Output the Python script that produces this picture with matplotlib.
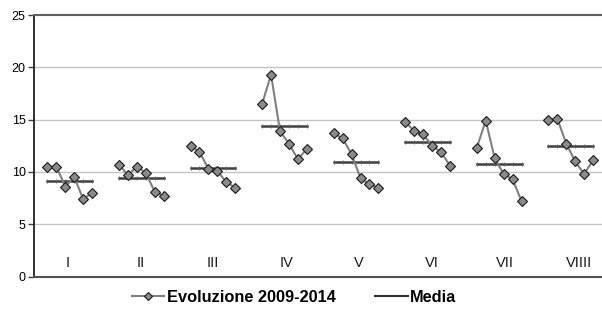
import matplotlib
matplotlib.use("Agg")
import matplotlib.pyplot as plt
from matplotlib.lines import Line2D

plt.rcParams['font.family'] = ['Liberation Sans', 'DejaVu Sans']

groups = ["I", "II", "III", "IV", "V", "VI", "VII", "VIIII"]
evoluzione = [
    [10.5, 10.5, 8.6, 9.5, 7.4, 8.0],
    [10.7, 9.7, 10.5, 9.9, 8.1, 7.7],
    [12.5, 11.9, 10.3, 10.1, 9.0, 8.5],
    [16.5, 19.3, 13.9, 12.7, 11.2, 12.2],
    [13.7, 13.2, 11.7, 9.4, 8.8, 8.5],
    [14.8, 13.9, 13.6, 12.5, 11.9, 10.6],
    [12.3, 14.9, 11.3, 9.8, 9.3, 7.2],
    [15.0, 15.1, 12.7, 11.0, 9.8, 11.1],
]
media = [9.1, 9.4, 10.4, 14.4, 10.9, 12.9, 10.8, 12.5]
label_pos = [3.3, 11.4, 19.5, 27.7, 35.8, 44.0, 52.2, 60.4]
yticks = [0, 5, 10, 15, 20, 25]

fig = plt.figure(figsize=(6.02, 3.16), dpi=100)
ax = fig.add_axes([34/602, 39.5/316, (606.5-34)/602, (276.5-15)/316])

slots = 8
for g, vals in enumerate(evoluzione):
    xs = [g*slots + 1 + i for i in range(len(vals))]
    ax.plot(xs, vals, color='#808080', lw=1.5, marker='D', markersize=5.5,
            markerfacecolor='#8a8a8a', markeredgecolor='#1a1a1a', markeredgewidth=0.8,
            zorder=3)
    ax.plot(xs, [media[g]]*len(xs), color='#404040', lw=1.8, marker='|', markersize=2.2,
            markeredgewidth=0.6, markeredgecolor='#606060', zorder=2)

for g, name in enumerate(groups):
    ax.text(label_pos[g], 1.25, name, ha='center', va='center', fontsize=10.5,
            color='#1a1a1a')

ax.set_xlim(-0.5, 63.5)
ax.set_ylim(0, 25)
ax.set_yticks(yticks)
ax.set_yticklabels([str(t) for t in yticks], fontsize=9)
ax.set_xticks([])
ax.tick_params(axis='y', length=4, width=1, color='#404040', pad=2)
for y in yticks[1:-1]:
    ax.axhline(y, color='#c4c4c4', lw=1, zorder=0)
ax.spines['right'].set_visible(False)
ax.spines['top'].set_color('#606060')
ax.spines['top'].set_linewidth(1.5)
ax.spines['left'].set_color('#202020')
ax.spines['left'].set_linewidth(1.3)
ax.spines['bottom'].set_color('#505050')
ax.spines['bottom'].set_linewidth(1.5)

h1 = Line2D([], [], color='#808080', lw=1.5, marker='D', markersize=4.5,
            markerfacecolor='#8a8a8a', markeredgecolor='#1a1a1a', markeredgewidth=0.8)
h2 = Line2D([], [], color='#303030', lw=1.5)
fig.legend([h1, h2], ['Evoluzione 2009-2014', 'Media'], loc='center',
           bbox_to_anchor=(294/602, 1 - 297/316), ncol=2, frameon=False,
           prop={'weight': 'bold', 'size': 11.8}, handlelength=2.0, handletextpad=0.15,
           columnspacing=2.4)

fig.savefig('out.png', dpi=100)
